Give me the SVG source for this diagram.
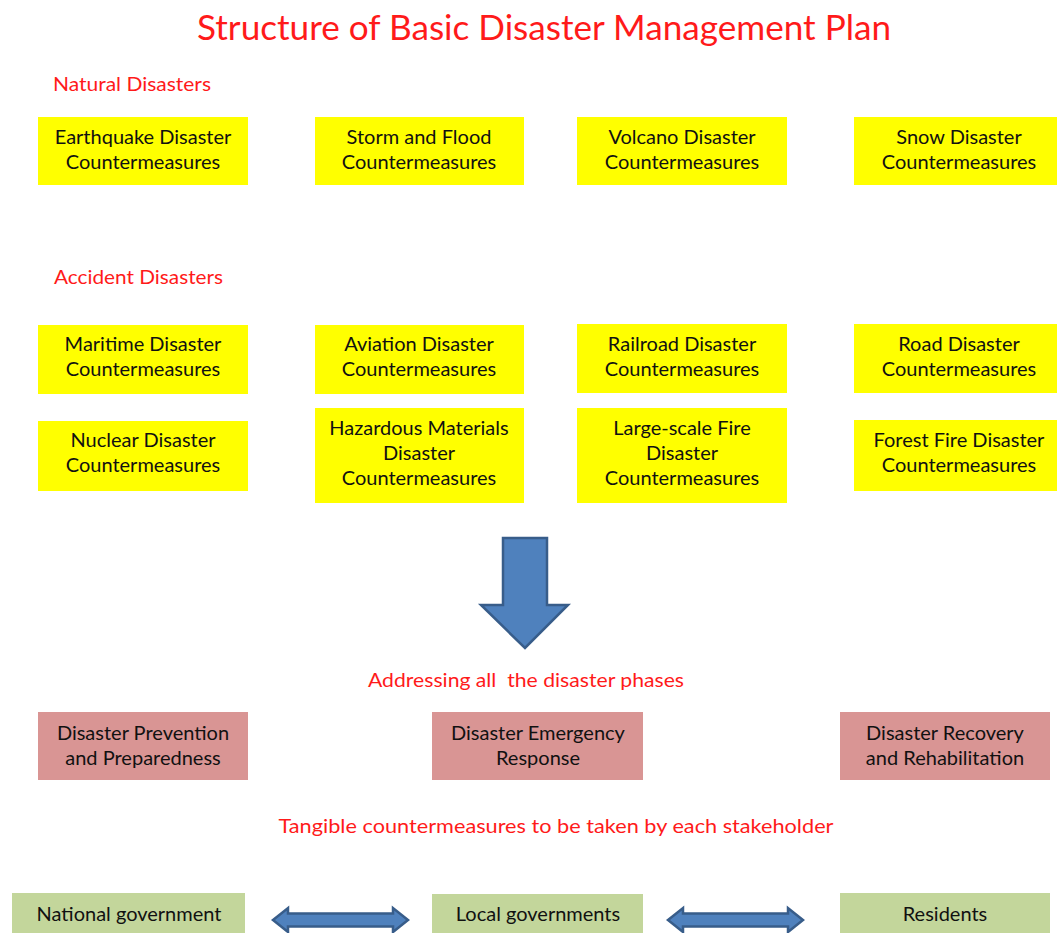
<svg xmlns="http://www.w3.org/2000/svg" width="1057" height="933" viewBox="0 0 1057 933">
  <style>
    text { font-family: Lato, "Open Sans", "Liberation Sans", sans-serif; }
    .title { font-size: 34px; fill: #ff1a1a; text-anchor: middle; }
    .label { font-size: 19px; fill: #ff1a1a; }
    .cap { font-size: 19px; fill: #ff1a1a; text-anchor: middle; }
    .box text { font-size: 20px; fill: #111111; text-anchor: middle; }
    .yellow rect { fill: #ffff00; }
    .phase rect { fill: #d99594; }
    .actor rect { fill: #c3d69b; }
    .big-arrow { fill: #4f81bd; stroke: #385d8a; stroke-width: 2.5; stroke-linejoin: miter; }
  </style>

  <rect width="1057" height="933" fill="#ffffff"/>

  <text class="title" x="544" y="40" textLength="694" lengthAdjust="spacingAndGlyphs">Structure of Basic Disaster Management Plan</text>

  <text class="label" x="53" y="91" textLength="158" lengthAdjust="spacingAndGlyphs">Natural Disasters</text>
  <text class="label" x="54" y="284" textLength="169" lengthAdjust="spacingAndGlyphs">Accident Disasters</text>

  <!-- Natural disaster countermeasures -->
  <g id="earthquake" class="box yellow">
    <rect x="38" y="117" width="210" height="68"/>
    <text x="143" y="144">Earthquake Disaster</text>
    <text x="143" y="169">Countermeasures</text>
  </g>
  <g id="storm-flood" class="box yellow">
    <rect x="315" y="117" width="209" height="68"/>
    <text x="419" y="144">Storm and Flood</text>
    <text x="419" y="169">Countermeasures</text>
  </g>
  <g id="volcano" class="box yellow">
    <rect x="577" y="117" width="210" height="68"/>
    <text x="682" y="144">Volcano Disaster</text>
    <text x="682" y="169">Countermeasures</text>
  </g>
  <g id="snow" class="box yellow">
    <rect x="854" y="117" width="210" height="68"/>
    <text x="959" y="144">Snow Disaster</text>
    <text x="959" y="169">Countermeasures</text>
  </g>

  <!-- Accident disaster countermeasures -->
  <g id="maritime" class="box yellow">
    <rect x="38" y="325" width="210" height="69"/>
    <text x="143" y="351">Maritime Disaster</text>
    <text x="143" y="376">Countermeasures</text>
  </g>
  <g id="aviation" class="box yellow">
    <rect x="315" y="325" width="209" height="69"/>
    <text x="419" y="351">Aviation Disaster</text>
    <text x="419" y="376">Countermeasures</text>
  </g>
  <g id="railroad" class="box yellow">
    <rect x="577" y="324" width="210" height="69"/>
    <text x="682" y="351">Railroad Disaster</text>
    <text x="682" y="376">Countermeasures</text>
  </g>
  <g id="road" class="box yellow">
    <rect x="854" y="324" width="210" height="69"/>
    <text x="959" y="351">Road Disaster</text>
    <text x="959" y="376">Countermeasures</text>
  </g>
  <g id="nuclear" class="box yellow">
    <rect x="38" y="421" width="210" height="70"/>
    <text x="143" y="447">Nuclear Disaster</text>
    <text x="143" y="472">Countermeasures</text>
  </g>
  <g id="hazardous" class="box yellow">
    <rect x="315" y="408" width="209" height="95"/>
    <text x="419" y="435">Hazardous Materials</text>
    <text x="419" y="460">Disaster</text>
    <text x="419" y="485">Countermeasures</text>
  </g>
  <g id="large-fire" class="box yellow">
    <rect x="577" y="408" width="210" height="95"/>
    <text x="682" y="435">Large-scale Fire</text>
    <text x="682" y="460">Disaster</text>
    <text x="682" y="485">Countermeasures</text>
  </g>
  <g id="forest-fire" class="box yellow">
    <rect x="854" y="420" width="210" height="71"/>
    <text x="959" y="447">Forest Fire Disaster</text>
    <text x="959" y="472">Countermeasures</text>
  </g>

  <g id="connectors">
    <path class="big-arrow" d="M503,538 H547 V605 H568 L525,648 L481,605 H503 Z"/>
    <path class="big-arrow" stroke-width="2" d="M273,920 L288,908 V913.5 H393 V908 L408,920 L393,932 V926.5 H288 V932 Z"/>
    <path class="big-arrow" stroke-width="2" d="M668,920 L683,908 V913.5 H788 V908 L803,920 L788,932 V926.5 H683 V932 Z"/>
  </g>

  <text class="cap" x="526" y="687" textLength="316" lengthAdjust="spacingAndGlyphs" xml:space="preserve">Addressing all  the disaster phases</text>

  <!-- Disaster phases -->
  <g id="prevention" class="box phase">
    <rect x="38" y="712" width="210" height="68"/>
    <text x="143" y="740">Disaster Prevention</text>
    <text x="143" y="765">and Preparedness</text>
  </g>
  <g id="emergency" class="box phase">
    <rect x="432" y="712" width="211" height="68"/>
    <text x="538" y="740">Disaster Emergency</text>
    <text x="538" y="765">Response</text>
  </g>
  <g id="recovery" class="box phase">
    <rect x="840" y="712" width="210" height="68"/>
    <text x="945" y="740">Disaster Recovery</text>
    <text x="945" y="765">and Rehabilitation</text>
  </g>

  <text class="cap" x="556" y="833" textLength="555" lengthAdjust="spacingAndGlyphs">Tangible countermeasures to be taken by each stakeholder</text>

  <!-- Stakeholders -->
  <g id="national" class="box actor">
    <rect x="12" y="893" width="233" height="45"/>
    <text x="129" y="921">National government</text>
  </g>
  <g id="local" class="box actor">
    <rect x="432" y="894" width="211" height="45"/>
    <text x="538" y="921">Local governments</text>
  </g>
  <g id="residents" class="box actor">
    <rect x="840" y="893" width="210" height="45"/>
    <text x="945" y="921">Residents</text>
  </g>
</svg>
